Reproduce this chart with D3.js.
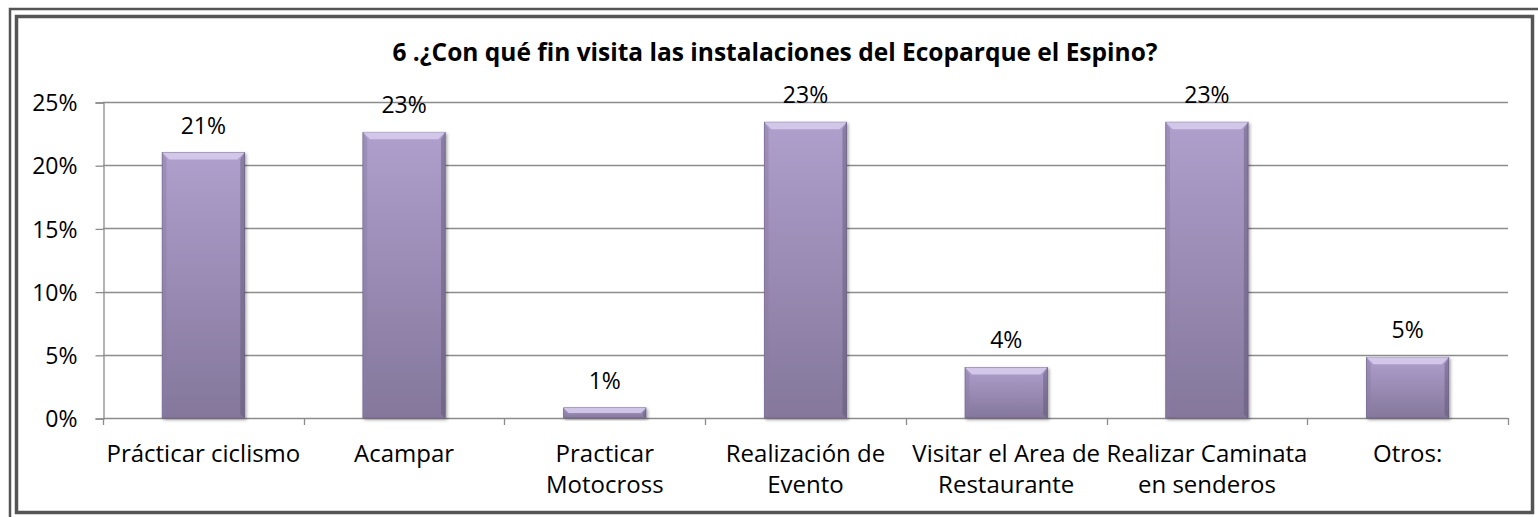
<!DOCTYPE html>
<html>
<head>
<meta charset="utf-8">
<script src="https://cdn.jsdelivr.net/npm/d3@7"></script>
<style>
  body { margin: 0; background: #fff; }
  svg { display: block; font-family: "Open Sans", Lato, sans-serif; }
</style>
</head>
<body>
<svg id="chart" width="1538" height="517"></svg>
<script>
// chart data
var title = "6 .¿Con qué fin visita las instalaciones del Ecoparque el Espino?";
var categories = [
  ["Prácticar ciclismo"],
  ["Acampar"],
  ["Practicar", "Motocross"],
  ["Realización de", "Evento"],
  ["Visitar el Area de", "Restaurante"],
  ["Realizar Caminata", "en senderos"],
  ["Otros:"]
];
var values = [0.21, 0.226, 0.008, 0.234, 0.04, 0.234, 0.048];
var labels = ["21%", "23%", "1%", "23%", "4%", "23%", "5%"];
var y_ticks = [0, 0.05, 0.10, 0.15, 0.20, 0.25];

var svg = d3.select("#chart");
var W = 1538, H = 517;
var margin = {left: 103, right: 30, top: 102, bottom: 99};
var fs = 23;

// frame
svg.append("rect").attr("x", 10).attr("y", 9).attr("width", W + 20).attr("height", H + 20)
  .attr("fill", "none").attr("stroke", "#555").attr("stroke-width", 2.5);
svg.append("rect").attr("x", 16.5).attr("y", 16.5).attr("width", 1516).attr("height", 496)
  .attr("fill", "#fff").attr("stroke", "#555").attr("stroke-width", 3.5);

var x = d3.scaleBand()
  .domain(d3.range(categories.length))
  .range([margin.left, W - margin.right])
  .paddingInner(0.59).paddingOuter(0.295);
var y = d3.scaleLinear().domain([0, 0.25]).range([H - margin.bottom, margin.top]);

// title
svg.append("text").attr("x", 775).attr("y", 61).attr("text-anchor", "middle")
  .attr("font-weight", "bold").attr("font-size", 24.5).text(title);

// gridlines
svg.append("g").selectAll("line").data(y_ticks.slice(1)).enter().append("line")
  .attr("x1", margin.left).attr("x2", W - margin.right)
  .attr("y1", function(d){ return Math.round(y(d)) + 0.5; })
  .attr("y2", function(d){ return Math.round(y(d)) + 0.5; })
  .attr("stroke", "#8c8c8c").attr("stroke-width", 1.3);

// axes
var yAxis = d3.axisLeft(y).tickValues(y_ticks).tickFormat(d3.format(".0%")).tickSize(8).tickPadding(18);
var gy = svg.append("g").attr("transform", "translate(" + (margin.left + 0.5) + ",0.5)").call(yAxis);
gy.selectAll("text").attr("font-size", fs).attr("fill", "#000").attr("dy", "0.36em")
  .style("font-family", "'Open Sans', sans-serif");
gy.selectAll("line, path").attr("stroke", "#8c8c8c").attr("stroke-width", 1.3);

var edges = d3.range(categories.length + 1).map(function(i){
  return i < categories.length ? x(i) - x.step() * x.paddingInner() / 2 : W - margin.right;
});
var gx = svg.append("g");
gx.append("line").attr("x1", margin.left).attr("x2", W - margin.right)
  .attr("y1", y(0) + 0.5).attr("y2", y(0) + 0.5).attr("stroke", "#8c8c8c").attr("stroke-width", 1.3);
gx.selectAll(".tk").data(edges).enter().append("line")
  .attr("x1", function(d){ return Math.round(d) + 0.5; }).attr("x2", function(d){ return Math.round(d) + 0.5; })
  .attr("y1", y(0)).attr("y2", y(0) + 7).attr("stroke", "#8c8c8c").attr("stroke-width", 1.3);

var catText = gx.selectAll(".cat").data(categories).enter().append("text")
  .attr("text-anchor", "middle").attr("font-size", 24)
  .attr("transform", function(d, i){ return "translate(" + (x(i) + x.bandwidth() / 2) + "," + (y(0) + 44) + ")"; });
catText.selectAll("tspan").data(function(d){ return d; }).enter().append("tspan")
  .attr("x", 0).attr("dy", function(d, i){ return i === 0 ? 0 : 31; }).text(function(d){ return d; });

// bar gradient and shadow
var defs = svg.append("defs");
var grad = defs.append("linearGradient").attr("id", "barGrad").attr("x1", 0).attr("y1", 0).attr("x2", 0).attr("y2", 1);
grad.append("stop").attr("offset", "0%").attr("stop-color", "#ae9fcc");
grad.append("stop").attr("offset", "100%").attr("stop-color", "#84779b");
var f = defs.append("filter").attr("id", "shadow").attr("x", "-20%").attr("y", "-20%").attr("width", "140%").attr("height", "140%");
f.append("feDropShadow").attr("dx", 1.5).attr("dy", 1.5).attr("stdDeviation", 1.5).attr("flood-color", "#000").attr("flood-opacity", 0.35);

var bars = svg.append("g").selectAll("g").data(values).enter().append("g");
bars.append("rect")
  .attr("x", function(d, i){ return x(i); })
  .attr("y", function(d){ return y(d); })
  .attr("width", x.bandwidth())
  .attr("height", function(d){ return y(0) - y(d); })
  .attr("fill", "url(#barGrad)")
  .attr("stroke", "#6e6386").attr("stroke-width", 0.8)
  .attr("filter", "url(#shadow)");

// bevel pieces
function bevel(d, i) {
  var x0 = x(i), x1 = x(i) + x.bandwidth(), y0 = y(d), y1 = y(0);
  var b = Math.min(7, (y1 - y0) / 2);
  return {x0: x0, x1: x1, y0: y0, y1: y1, b: b};
}
bars.append("polygon").attr("points", function(d, i){
  var p = bevel(d, i);
  return [[p.x0, p.y0], [p.x1, p.y0], [p.x1 - p.b, p.y0 + p.b], [p.x0 + p.b, p.y0 + p.b]].join(" ");
}).attr("fill", "#d6cbec").attr("opacity", 0.9);
bars.append("polygon").attr("points", function(d, i){
  var p = bevel(d, i);
  return [[p.x0, p.y0], [p.x0 + p.b * 0.6, p.y0 + p.b], [p.x0 + p.b * 0.6, p.y1 - p.b * 0.5], [p.x0, p.y1]].join(" ");
}).attr("fill", "#8a7ca4").attr("opacity", 0.45);
bars.append("polygon").attr("points", function(d, i){
  var p = bevel(d, i);
  return [[p.x1, p.y0], [p.x1 - p.b * 0.6, p.y0 + p.b], [p.x1 - p.b * 0.6, p.y1 - p.b * 0.5], [p.x1, p.y1]].join(" ");
}).attr("fill", "#5e5474").attr("opacity", 0.45);

// value labels
svg.append("g").selectAll("text").data(values).enter().append("text")
  .attr("x", function(d, i){ return x(i) + x.bandwidth() / 2; })
  .attr("y", function(d){ return y(d) - 19; })
  .attr("text-anchor", "middle").attr("font-size", fs)
  .text(function(d, i){ return labels[i]; });
</script>
</body>
</html>
